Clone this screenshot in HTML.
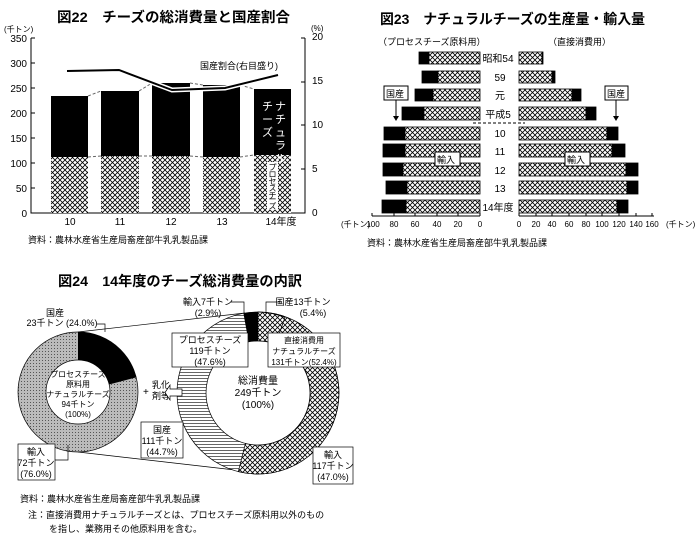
<!DOCTYPE html>
<html><head><meta charset="utf-8"><style>
body{margin:0;background:#fff}
svg{display:block;font-family:"Liberation Sans","Noto Sans CJK JP",sans-serif}
.t{font-weight:bold}
.s{font-size:9px}
.x{font-size:8px}
.m{font-size:10px}
</style></head><body>
<svg width="700" height="546" viewBox="0 0 700 546">
<defs>
<pattern id="x" width="5" height="5" patternUnits="userSpaceOnUse">
<rect width="5" height="5" fill="#fff"/><path d="M0,0L5,5M5,0L0,5" stroke="#000" stroke-width="0.8"/></pattern>
<pattern id="d" width="3" height="3" patternUnits="userSpaceOnUse">
<rect width="3" height="3" fill="#bbb"/><rect width="1" height="1" fill="#555"/></pattern>
<pattern id="h" width="4" height="3" patternUnits="userSpaceOnUse">
<rect width="4" height="3" fill="#fff"/><rect y="0" width="4" height="1" fill="#666"/></pattern>
</defs>

<!-- 図22 -->
<text x="57" y="22" class="t" font-size="14" textLength="233" lengthAdjust="spacingAndGlyphs">図22　チーズの総消費量と国産割合</text>
<text x="4" y="32" class="x">(千トン)</text>
<text x="311" y="31" class="x">(%)</text>
<g class="m" text-anchor="end">
<text x="27" y="42">350</text><text x="27" y="67">300</text><text x="27" y="92">250</text>
<text x="27" y="117">200</text><text x="27" y="142">150</text><text x="27" y="167">100</text>
<text x="27" y="192">50</text><text x="27" y="217">0</text></g>
<g class="m"><text x="312" y="40">20</text><text x="312" y="84">15</text><text x="312" y="128">10</text>
<text x="312" y="172">5</text><text x="312" y="216">0</text></g>
<path d="M31,38V213H305V38M31,38h4M31,63h4M31,88h4M31,113h4M31,138h4M31,163h4M31,188h4M305,82h-4M305,125h-4M305,169h-4M305,38h-4" stroke="#000" fill="none"/>
<g>
<rect x="51" y="96" width="37" height="61" fill="#000"/><rect x="51" y="157" width="37" height="56" fill="url(#x)"/>
<rect x="101" y="91" width="38" height="65" fill="#000"/><rect x="101" y="156" width="38" height="57" fill="url(#x)"/>
<rect x="152" y="83" width="38" height="73" fill="#000"/><rect x="152" y="156" width="38" height="57" fill="url(#x)"/>
<rect x="203" y="85" width="37" height="72" fill="#000"/><rect x="203" y="157" width="37" height="56" fill="url(#x)"/>
<rect x="254" y="89" width="37" height="66" fill="#000"/><rect x="254" y="155" width="37" height="58" fill="url(#x)"/>
</g>
<path d="M88,96L101,91M139,91L152,83M190,83L203,85M240,85L254,89M88,157L101,156M139,156L152,156M190,156L203,157M240,157L254,155" stroke="#666" stroke-dasharray="3,2" fill="none"/>
<path d="M67,71L119,70L172,90L225,88L278,75" stroke="#fff" stroke-width="5" fill="none"/>
<path d="M67,71L119,70L172,90L225,88L278,75" stroke="#000" stroke-width="2" fill="none"/>
<text x="200" y="69" class="s">国産割合(右目盛り)</text>
<g fill="#fff" font-size="11"><text x="275" y="110">ナ</text><text x="275" y="123">チ</text><text x="275" y="136">ュ</text><text x="275" y="149">ラ</text><text x="275" y="162">ル</text>
<text x="262" y="110">チ</text><text x="262" y="123">ー</text><text x="262" y="136">ズ</text></g>
<rect x="267" y="162" width="11" height="48" fill="#fff"/>
<g class="x" text-anchor="middle"><text x="272.5" y="170">プ</text><text x="272.5" y="177">ロ</text><text x="272.5" y="184">セ</text><text x="272.5" y="191">ス</text><text x="272.5" y="198">チ</text><text x="272.5" y="202">ー</text><text x="272.5" y="209">ズ</text></g>
<g class="m" text-anchor="middle"><text x="70" y="225">10</text><text x="120" y="225">11</text><text x="171" y="225">12</text><text x="222" y="225">13</text><text x="281" y="225">14年度</text></g>
<text x="28" y="243" class="s">資料：農林水産省生産局畜産部牛乳乳製品課</text>

<!-- 図23 -->
<text x="380" y="24" class="t" font-size="14" textLength="265" lengthAdjust="spacingAndGlyphs">図23　ナチュラルチーズの生産量・輸入量</text>
<text x="378" y="45" class="s">（プロセスチーズ原料用）</text>
<text x="548" y="45" class="s">（直接消費用）</text>
<g stroke="#000" stroke-width="0.8">
<rect x="419" y="52" width="10" height="12" fill="#000"/><rect x="429" y="52" width="51" height="12" fill="url(#x)"/>
<rect x="422" y="71" width="16" height="12" fill="#000"/><rect x="438" y="71" width="42" height="12" fill="url(#x)"/>
<rect x="415" y="89" width="18" height="12" fill="#000"/><rect x="433" y="89" width="47" height="12" fill="url(#x)"/>
<rect x="402" y="107" width="22" height="13" fill="#000"/><rect x="424" y="107" width="56" height="13" fill="url(#x)"/>
<rect x="384" y="127" width="21" height="13" fill="#000"/><rect x="405" y="127" width="75" height="13" fill="url(#x)"/>
<rect x="383" y="144" width="22" height="13" fill="#000"/><rect x="405" y="144" width="75" height="13" fill="url(#x)"/>
<rect x="383" y="163" width="20" height="13" fill="#000"/><rect x="403" y="163" width="77" height="13" fill="url(#x)"/>
<rect x="386" y="181" width="21" height="13" fill="#000"/><rect x="407" y="181" width="73" height="13" fill="url(#x)"/>
<rect x="382" y="200" width="24" height="13" fill="#000"/><rect x="406" y="200" width="74" height="13" fill="url(#x)"/>

<rect x="519" y="52" width="23" height="12" fill="url(#x)"/><rect x="542" y="52" width="1" height="12" fill="#000"/>
<rect x="519" y="71" width="33" height="12" fill="url(#x)"/><rect x="552" y="71" width="3" height="12" fill="#000"/>
<rect x="519" y="89" width="53" height="12" fill="url(#x)"/><rect x="572" y="89" width="9" height="12" fill="#000"/>
<rect x="519" y="107" width="67" height="13" fill="url(#x)"/><rect x="586" y="107" width="10" height="13" fill="#000"/>
<rect x="519" y="127" width="88" height="13" fill="url(#x)"/><rect x="607" y="127" width="11" height="13" fill="#000"/>
<rect x="519" y="144" width="93" height="13" fill="url(#x)"/><rect x="612" y="144" width="13" height="13" fill="#000"/>
<rect x="519" y="163" width="107" height="13" fill="url(#x)"/><rect x="626" y="163" width="12" height="13" fill="#000"/>
<rect x="519" y="181" width="108" height="13" fill="url(#x)"/><rect x="627" y="181" width="11" height="13" fill="#000"/>
<rect x="519" y="200" width="98" height="13" fill="url(#x)"/><rect x="617" y="200" width="11" height="13" fill="#000"/>
</g>
<path d="M473,123H525" stroke="#000" stroke-dasharray="3,2"/>
<g class="m" text-anchor="middle"><text x="498" y="62">昭和54</text><text x="500" y="81">59</text><text x="500" y="99">元</text><text x="498" y="118">平成5</text>
<text x="500" y="137">10</text><text x="500" y="155">11</text><text x="500" y="174">12</text><text x="500" y="192">13</text><text x="498" y="211">14年度</text></g>
<path d="M372,216H480M519,216H654M372,216v-3M394,216v-3M415,216v-3M437,216v-3M458,216v-3M480,216v-3M519,216v-3M536,216v-3M552,216v-3M569,216v-3M586,216v-3M602,216v-3M619,216v-3M636,216v-3M652,216v-3" stroke="#000" fill="none"/>
<g class="x" text-anchor="middle"><text x="373" y="227">100</text><text x="394" y="227">80</text><text x="415" y="227">60</text><text x="437" y="227">40</text><text x="458" y="227">20</text><text x="480" y="227">0</text>
<text x="519" y="227">0</text><text x="536" y="227">20</text><text x="552" y="227">40</text><text x="569" y="227">60</text><text x="586" y="227">80</text><text x="602" y="227">100</text><text x="619" y="227">120</text><text x="636" y="227">140</text><text x="652" y="227">160</text></g>
<text x="341" y="227" class="x">(千トン)</text><text x="666" y="227" class="x">(千トン)</text>
<rect x="384" y="86" width="24" height="14" fill="#fff" stroke="#000"/><text x="386" y="97" class="s">国産</text>
<path d="M396,100V119" stroke="#000"/><path d="M393,116L396,121L399,116" fill="#000"/>
<rect x="605" y="86" width="23" height="14" fill="#fff" stroke="#000"/><text x="607" y="97" class="s">国産</text>
<path d="M616,100V119" stroke="#000"/><path d="M613,116L616,121L619,116" fill="#000"/>
<rect x="435" y="152" width="25" height="14" fill="#fff" stroke="#000"/><text x="437" y="163" class="s">輸入</text>
<rect x="565" y="152" width="25" height="14" fill="#fff" stroke="#000"/><text x="567" y="163" class="s">輸入</text>
<text x="367" y="246" class="s">資料：農林水産省生産局畜産部牛乳乳製品課</text>

<!-- 図24 -->
<text x="58" y="286" class="t" font-size="14" textLength="244" lengthAdjust="spacingAndGlyphs">図24　14年度のチーズ総消費量の内訳</text>
<path d="M78,332L245,313M78,452L235,470" stroke="#000" stroke-width="0.7"/>
<circle cx="78" cy="392" r="60" fill="url(#d)" stroke="#000" stroke-width="0.7"/>
<path d="M78,332A60,60 0 0 1 136.2,377.4L109,384.5A32,32 0 0 0 78,360Z" fill="#000"/>
<circle cx="78" cy="392" r="32" fill="#fff" stroke="#000" stroke-width="0.7"/>
<g class="x" text-anchor="middle"><text x="78" y="377">プロセスチーズ</text><text x="78" y="387">原料用</text><text x="78" y="397">ナチュラルチーズ</text><text x="78" y="407">94千トン</text><text x="78" y="417">(100%)</text></g>
<text x="55" y="316" class="s" text-anchor="middle">国産</text><text x="62" y="326" class="s" text-anchor="middle">23千トン (24.0%)</text>
<path d="M97,324H105V332" stroke="#000" fill="none" stroke-width="0.7"/>
<rect x="18" y="444" width="37" height="36" fill="#fff" stroke="#000" stroke-width="0.7"/>
<g class="s" text-anchor="middle"><text x="36" y="455">輸入</text><text x="36" y="466">72千トン</text><text x="36" y="477">(76.0%)</text></g>
<path d="M55,460H68V445" stroke="#000" fill="none" stroke-width="0.7"/>

<circle cx="258" cy="393" r="81" fill="url(#h)" stroke="#000" stroke-width="0.7"/>
<path d="M258,312A81,81 0 1 1 238.3,471.6L245.4,443.4A52,52 0 1 0 258,341Z" fill="url(#x)" stroke="#000" stroke-width="0.7"/>
<path d="M258,312A81,81 0 0 1 285,317.4L275.4,344A52,52 0 0 0 258,341Z" fill="url(#x)" stroke="#000" stroke-width="0.7"/>
<path d="M243.4,313.3A81,81 0 0 1 258,312L258,341A52,52 0 0 0 248.6,341.9Z" fill="#000"/>
<circle cx="258" cy="393" r="52" fill="#fff" stroke="#000" stroke-width="0.7"/>
<g class="m" text-anchor="middle"><text x="258" y="384">総消費量</text><text x="258" y="396">249千トン</text><text x="258" y="408">(100%)</text></g>
<rect x="172" y="333" width="76" height="34" fill="#fff" stroke="#000" stroke-width="0.7"/>
<g class="s" text-anchor="middle"><text x="210" y="343">プロセスチーズ</text><text x="210" y="354">119千トン</text><text x="210" y="365">(47.6%)</text></g>
<rect x="268" y="333" width="72" height="34" fill="#fff" stroke="#000" stroke-width="0.7"/>
<g class="x" text-anchor="middle"><text x="304" y="343">直接消費用</text><text x="304" y="354">ナチュラルチーズ</text><text x="304" y="365">131千トン(52.4%)</text></g>
<text x="208" y="305" class="s" text-anchor="middle">輸入7千トン</text><text x="208" y="316" class="s" text-anchor="middle">(2.9%)</text>
<path d="M231,302H244V314" stroke="#000" fill="none" stroke-width="0.7"/>
<text x="303" y="305" class="s" text-anchor="middle">国産13千トン</text><text x="313" y="316" class="s" text-anchor="middle">(5.4%)</text>
<path d="M280,302H266V314" stroke="#000" fill="none" stroke-width="0.7"/>
<rect x="141" y="422" width="42" height="36" fill="#fff" stroke="#000" stroke-width="0.7"/>
<g class="s" text-anchor="middle"><text x="162" y="433">国産</text><text x="162" y="444">111千トン</text><text x="162" y="455">(44.7%)</text></g>
<rect x="313" y="447" width="40" height="37" fill="#fff" stroke="#000" stroke-width="0.7"/>
<g class="s" text-anchor="middle"><text x="333" y="458">輸入</text><text x="333" y="469">117千トン</text><text x="333" y="480">(47.0%)</text></g>
<text x="143" y="395" class="m">+</text><text x="152" y="388" class="s">乳化</text><text x="152" y="399" class="s">剤等</text>
<path d="M170,389H182V396H170V400L165,392.5L170,385Z" fill="#fff" stroke="#000" stroke-width="0.7"/>
<text x="20" y="502" class="s">資料：農林水産省生産局畜産部牛乳乳製品課</text>
<text x="28" y="518" class="s">注：直接消費用ナチュラルチーズとは、プロセスチーズ原料用以外のもの</text>
<text x="49" y="532" class="s">を指し、業務用その他原料用を含む。</text>
</svg>
</body></html>
